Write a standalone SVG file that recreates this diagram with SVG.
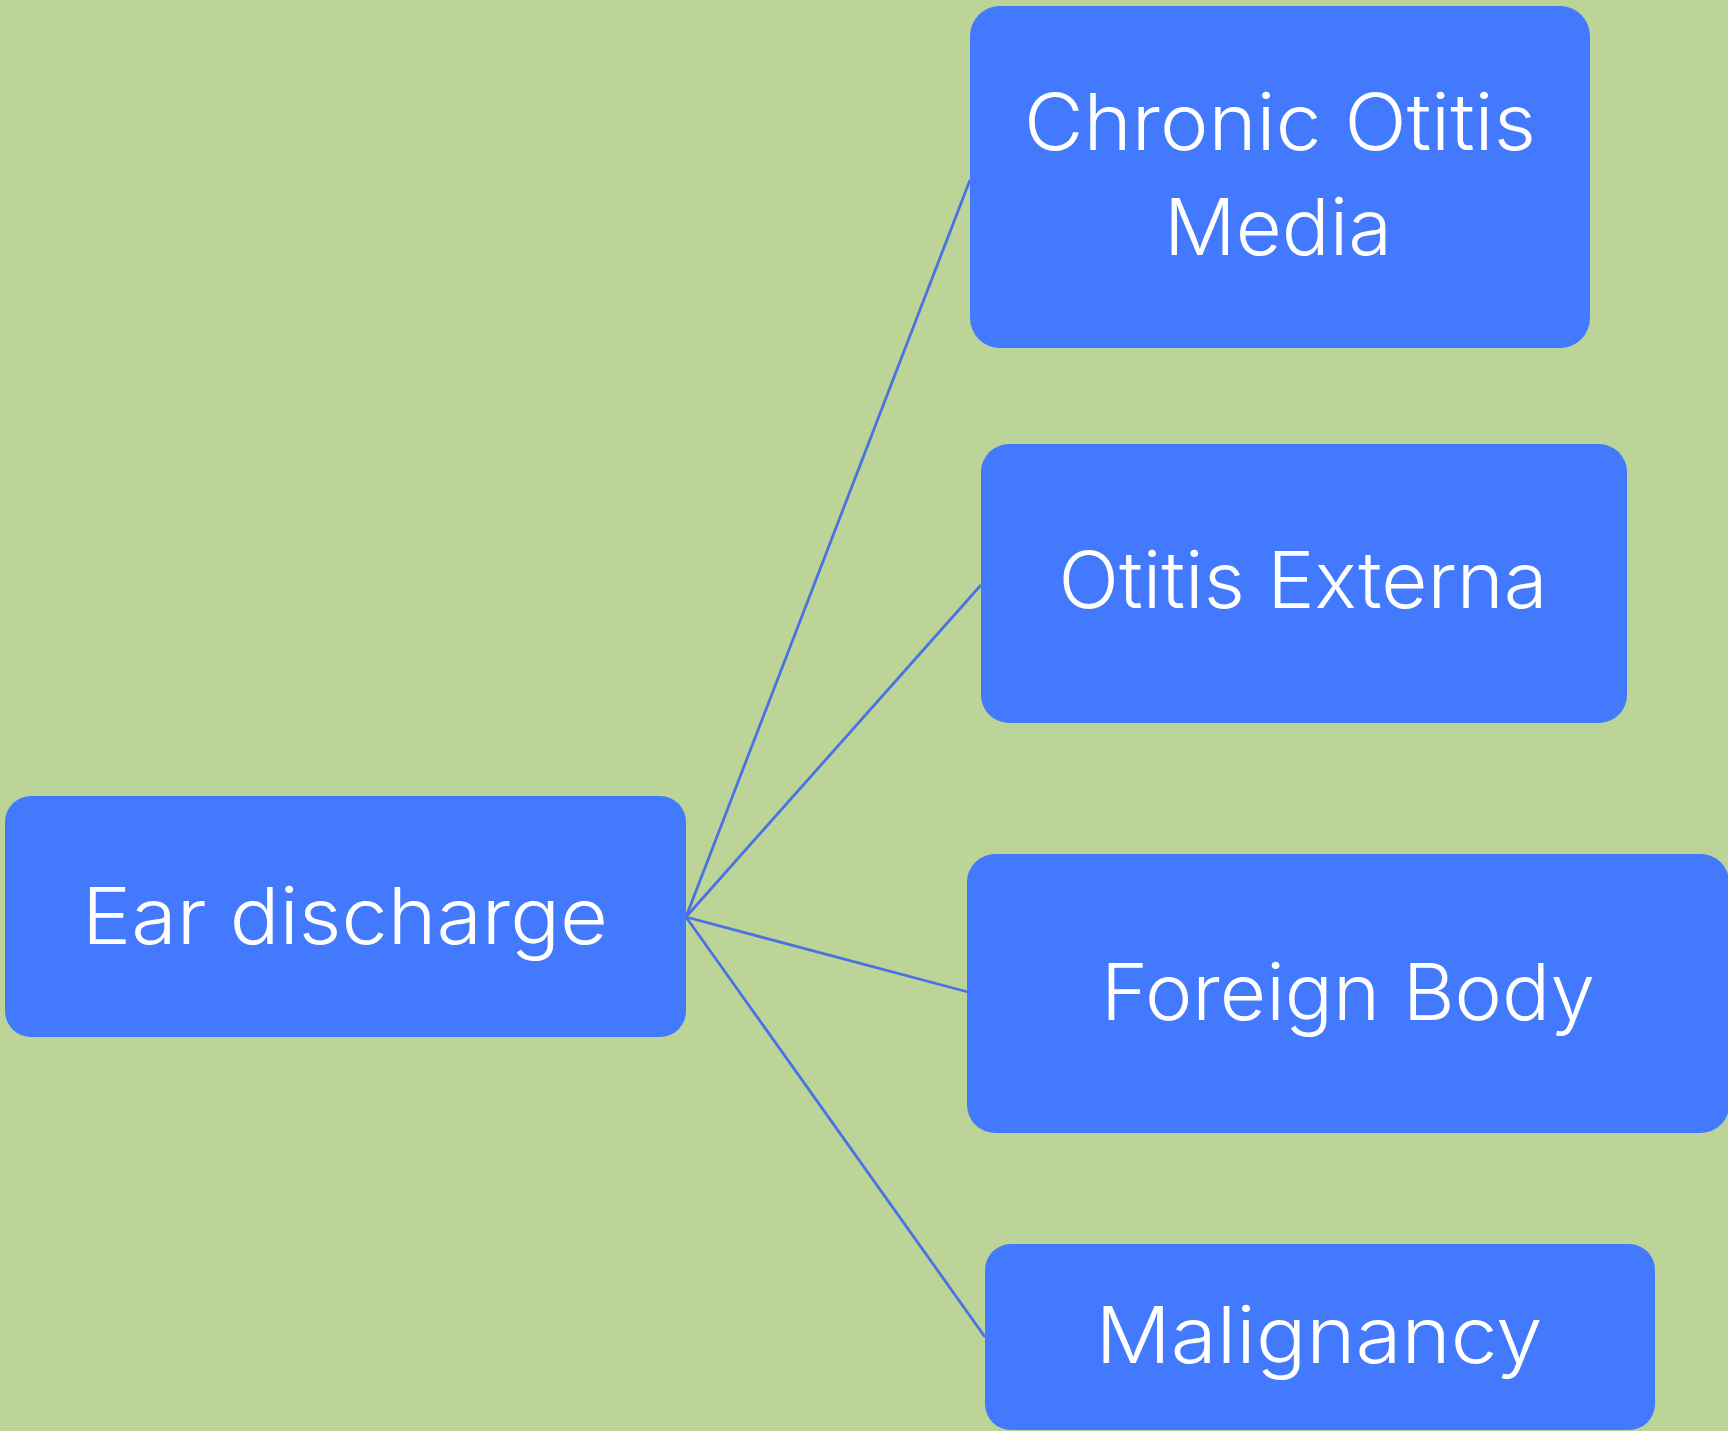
<svg xmlns="http://www.w3.org/2000/svg" width="1728" height="1431" viewBox="0 0 1728 1431">
  <style>
    .bg { fill: #bdd499; }
    .box { fill: #4279fd; }
    .label { fill: #ffffff; font-family: "Inter", "Open Sans", "Liberation Sans", sans-serif; font-weight: 300; font-size: 78px; text-anchor: middle; }
    .link { stroke: #4a72e2; stroke-width: 2.8; fill: none; }
  </style>
  <rect class="bg" x="0" y="0" width="1728" height="1431"/>

  <g id="connectors">
    <line class="link" x1="686" y1="917" x2="970" y2="180"/>
    <line class="link" x1="686" y1="917" x2="981" y2="585"/>
    <line class="link" x1="686" y1="917" x2="968" y2="992"/>
    <line class="link" x1="686" y1="917" x2="985" y2="1337"/>
  </g>

  <g id="ear-discharge">
    <rect class="box" x="5" y="796" width="681" height="241" rx="26"/>
    <text class="label" x="345" y="944" textLength="526" lengthAdjust="spacingAndGlyphs">Ear discharge</text>
  </g>

  <g id="chronic-otitis-media">
    <rect class="box" x="970" y="6" width="620" height="342" rx="30"/>
    <text class="label" x="1280" y="150" textLength="512" lengthAdjust="spacingAndGlyphs">Chronic Otitis</text>
    <text class="label" x="1278" y="255" textLength="228" lengthAdjust="spacingAndGlyphs">Media</text>
  </g>

  <g id="otitis-externa">
    <rect class="box" x="981" y="444" width="646" height="279" rx="28"/>
    <text class="label" x="1303" y="608" textLength="489" lengthAdjust="spacingAndGlyphs">Otitis Externa</text>
  </g>

  <g id="foreign-body">
    <rect class="box" x="967" y="854" width="762" height="279" rx="28"/>
    <text class="label" x="1348" y="1020" textLength="494" lengthAdjust="spacingAndGlyphs">Foreign Body</text>
  </g>

  <g id="malignancy">
    <rect class="box" x="985" y="1244" width="670" height="186" rx="26"/>
    <text class="label" x="1319" y="1363" textLength="447" lengthAdjust="spacingAndGlyphs">Malignancy</text>
  </g>
</svg>
